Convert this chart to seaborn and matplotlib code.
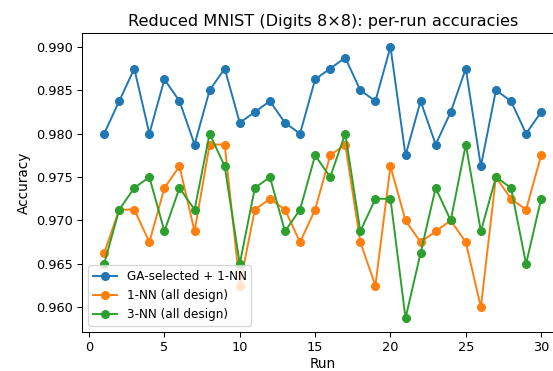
import numpy as np
import pandas as pd
import matplotlib
matplotlib.use("Agg")
import matplotlib.pyplot as plt
import seaborn as sns

runs = list(range(1, 31))
ga_1nn = [0.980, 0.98375, 0.9875, 0.980, 0.98625, 0.98375, 0.97875, 0.985, 0.9875, 0.98125,
          0.9825, 0.98375, 0.98125, 0.980, 0.98625, 0.9875, 0.98875, 0.985, 0.98375, 0.990,
          0.9775, 0.98375, 0.97875, 0.9825, 0.9875, 0.97625, 0.985, 0.98375, 0.980, 0.9825]
nn1_all = [0.96625, 0.97125, 0.97125, 0.9675, 0.97375, 0.97625, 0.96875, 0.97875, 0.97875, 0.9625,
           0.97125, 0.9725, 0.97125, 0.9675, 0.97125, 0.9775, 0.97875, 0.9675, 0.9625, 0.97625,
           0.970, 0.9675, 0.96875, 0.970, 0.9675, 0.960, 0.975, 0.9725, 0.97125, 0.9775]
nn3_all = [0.965, 0.97125, 0.97375, 0.975, 0.96875, 0.97375, 0.97125, 0.980, 0.97625, 0.965,
           0.97375, 0.975, 0.96875, 0.97125, 0.9775, 0.975, 0.980, 0.96875, 0.9725, 0.9725,
           0.95875, 0.96625, 0.97375, 0.970, 0.97875, 0.96875, 0.975, 0.97375, 0.965, 0.9725]
series_names = ["GA-selected + 1-NN", "1-NN (all design)", "3-NN (all design)"]
colors = ["#1f77b4", "#ff7f0e", "#2ca02c"]

dpi = 92.75
fig = plt.figure(figsize=(553 / dpi, 371 / dpi), dpi=dpi)
ax = fig.add_axes([82.3 / 553, 39.3 / 371, (563 - 82.3) / 553, (337.7 - 39.3) / 371])

for name, vals, c in zip(series_names, [ga_1nn, nn1_all, nn3_all], colors):
    df = pd.DataFrame({"Run": runs, "Accuracy": vals})
    sns.lineplot(data=df, x="Run", y="Accuracy", ax=ax, color=c, marker="o",
                 markersize=6, markeredgecolor=c, markeredgewidth=1, linewidth=1.5,
                 label=name)

ax.set_xlim(-0.45, 31.45)
ax.set_ylim(0.95719, 0.99156)
ax.set_xticks([0, 5, 10, 15, 20, 25, 30])
ax.set_yticks([0.960, 0.965, 0.970, 0.975, 0.980, 0.985, 0.990])
ax.yaxis.set_major_formatter(matplotlib.ticker.FormatStrFormatter("%.3f"))
ax.tick_params(labelsize=10)
ax.set_title("Reduced MNIST (Digits 8\u00d78): per-run accuracies", fontsize=12.5)
ax.set_xlabel("Run", fontsize=10.6, labelpad=2.6)
ax.set_ylabel("Accuracy", fontsize=10.6)
ax.legend(loc="lower left", fontsize=9.3)

fig.savefig("out.png", dpi=dpi)
